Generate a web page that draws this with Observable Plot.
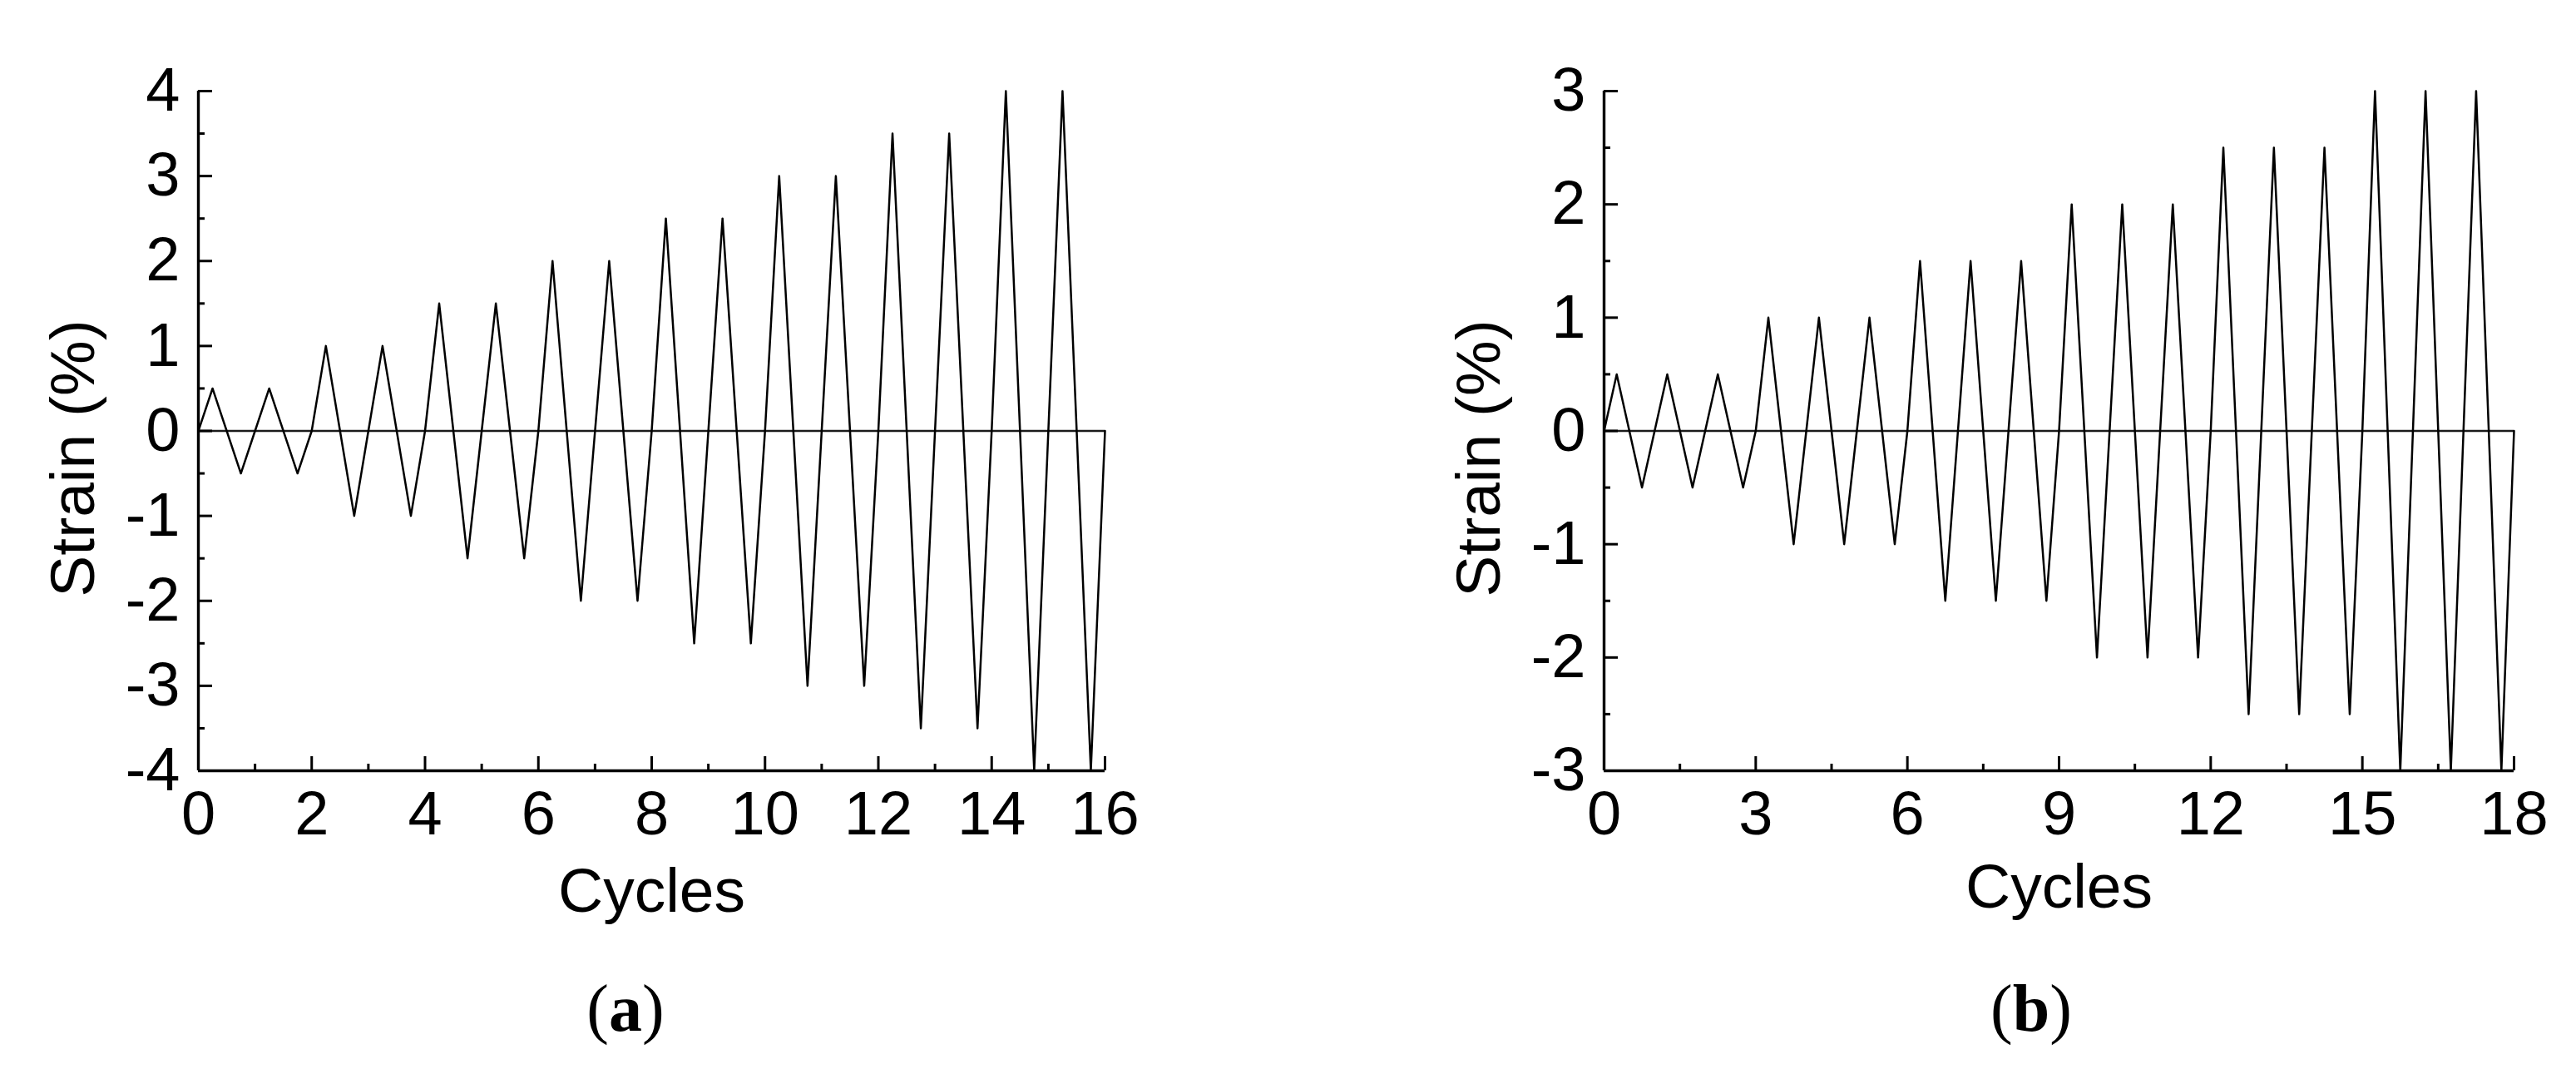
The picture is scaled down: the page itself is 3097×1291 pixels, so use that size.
<!DOCTYPE html>
<html><head><meta charset="utf-8">
<script src="https://cdn.jsdelivr.net/npm/d3@7"></script>
<script src="https://cdn.jsdelivr.net/npm/@observablehq/plot@0.6"></script>
<style>
html,body{margin:0;padding:0;background:#fff;}
#page{position:relative;width:3097px;height:1291px;overflow:hidden;background:#fff;}
.panel{position:absolute;top:0;}
.cap{position:absolute;width:400px;text-align:center;font-family:"Liberation Serif","Times New Roman",serif;font-size:80px;line-height:1;color:#000;}
.cap b{font-weight:bold;}
</style></head><body>
<div id="page">
<div id="pa" class="panel" style="left:0px"></div>
<div id="pb" class="panel" style="left:1548px"></div>
<div class="cap" style="left:552px;top:1172px">(<b>a</b>)</div>
<div class="cap" style="left:2242px;top:1172px">(<b>b</b>)</div>
</div>
<script>
// Panel (a): loading protocol, 16 cycles
const timeA = [0,0.25,0.75,1,1.25,1.75,2,2.25,2.75,3,3.25,3.75,4,4.25,4.75,5,5.25,5.75,6,6.25,6.75,7,7.25,7.75,8,8.25,8.75,9,9.25,9.75,10,10.25,10.75,11,11.25,11.75,12,12.25,12.75,13,13.25,13.75,14,14.25,14.75,15,15.25,15.75,16];
const strainA = [0,
  0.5,-0.5,0, 0.5,-0.5,0,
  1,-1,0, 1,-1,0,
  1.5,-1.5,0, 1.5,-1.5,0,
  2,-2,0, 2,-2,0,
  2.5,-2.5,0, 2.5,-2.5,0,
  3,-3,0, 3,-3,0,
  3.5,-3.5,0, 3.5,-3.5,0,
  4,-4,0, 4,-4,0];
const xMajorA = [0,2,4,6,8,10,12,14,16];
const xMinorA = [1,3,5,7,9,11,13,15];
const yMajorA = [-4,-3,-2,-1,0,1,2,3,4];
const yMinorA = [-3.5,-2.5,-1.5,-0.5,0.5,1.5,2.5,3.5];

// Panel (b): loading protocol, 18 cycles
const timeB = [0,0.25,0.75,1,1.25,1.75,2,2.25,2.75,3,3.25,3.75,4,4.25,4.75,5,5.25,5.75,6,6.25,6.75,7,7.25,7.75,8,8.25,8.75,9,9.25,9.75,10,10.25,10.75,11,11.25,11.75,12,12.25,12.75,13,13.25,13.75,14,14.25,14.75,15,15.25,15.75,16,16.25,16.75,17,17.25,17.75,18];
const strainB = [0,
  0.5,-0.5,0, 0.5,-0.5,0, 0.5,-0.5,0,
  1,-1,0, 1,-1,0, 1,-1,0,
  1.5,-1.5,0, 1.5,-1.5,0, 1.5,-1.5,0,
  2,-2,0, 2,-2,0, 2,-2,0,
  2.5,-2.5,0, 2.5,-2.5,0, 2.5,-2.5,0,
  3,-3,0, 3,-3,0, 3,-3,0];
const xMajorB = [0,3,6,9,12,15,18];
const xMinorB = [1.5,4.5,7.5,10.5,13.5,16.5];
const yMajorB = [-3,-2,-1,0,1,2,3];
const yMinorB = [-2.5,-1.5,-0.5,0.5,1.5,2.5];

const xLabel = "Cycles";
const yLabel = "Strain (%)";

function panel(cfg) {
  const H = 1130, mt = 109, mb = 204;
  const fw = cfg.width - cfg.ml - cfg.mr;
  const fh = H - mt - mb;
  const data = cfg.t.map((t, i) => ({t, s: cfg.s[i]}));
  const id = d => d;
  return Plot.plot({
    width: cfg.width, height: H,
    marginLeft: cfg.ml, marginRight: cfg.mr, marginTop: mt, marginBottom: mb,
    style: {fontFamily: "'Liberation Sans', Arial, sans-serif", background: "white", color: "black", overflow: "visible"},
    x: {domain: cfg.xd, label: null},
    y: {domain: cfg.yd, label: null},
    marks: [
      Plot.ruleY([0], {stroke: "#1a1a1a", strokeWidth: 2.6}),
      Plot.line(data, {x: "t", y: "s", stroke: "black", strokeWidth: 2.5}),
      Plot.tickY(cfg.yMajor, {y: id, insetRight: fw - 17, stroke: "black", strokeWidth: 3}),
      Plot.tickY(cfg.yMinor, {y: id, insetRight: fw - 8, stroke: "black", strokeWidth: 3}),
      Plot.tickX(cfg.xMajor, {x: id, insetTop: fh - 17, stroke: "black", strokeWidth: 3}),
      Plot.tickX(cfg.xMinor, {x: id, insetTop: fh - 8, stroke: "black", strokeWidth: 3}),
      Plot.ruleX([cfg.xd[0]], {stroke: "black", strokeWidth: 3.4}),
      Plot.ruleY([cfg.yd[0]], {stroke: "black", strokeWidth: 3.4}),
      Plot.axisX(cfg.xMajor, {tickSize: 0, tickPadding: 24, tickFormat: d => String(d), fontSize: 74, fill: "black", label: null}),
      Plot.axisY(cfg.yMajor, {tickSize: 0, tickPadding: 22, tickFormat: d => String(d), fontSize: 74, fill: "black", label: null}),
      Plot.text([xLabel], {text: id, frameAnchor: "bottom", dy: cfg.xdy, lineAnchor: "bottom", fontSize: 75, fill: "black"}),
      Plot.text([yLabel], {text: id, frameAnchor: "left", rotate: -90, dx: -126, dy: 33, lineAnchor: "bottom", textAnchor: "middle", fontSize: 75, fill: "black"})
    ]
  });
}

document.getElementById("pa").append(panel({
  width: 1548, ml: 238, mr: 220, t: timeA, s: strainA, xd: [0, 16], yd: [-4, 4],
  xMajor: xMajorA, xMinor: xMinorA, yMajor: yMajorA, yMinor: yMinorA, xdy: 169
}));
document.getElementById("pb").append(panel({
  width: 1549, ml: 380, mr: 75, t: timeB, s: strainB, xd: [0, 18], yd: [-3, 3],
  xMajor: xMajorB, xMinor: xMinorB, yMajor: yMajorB, yMinor: yMinorB, xdy: 164
}));
</script>
</body></html>
